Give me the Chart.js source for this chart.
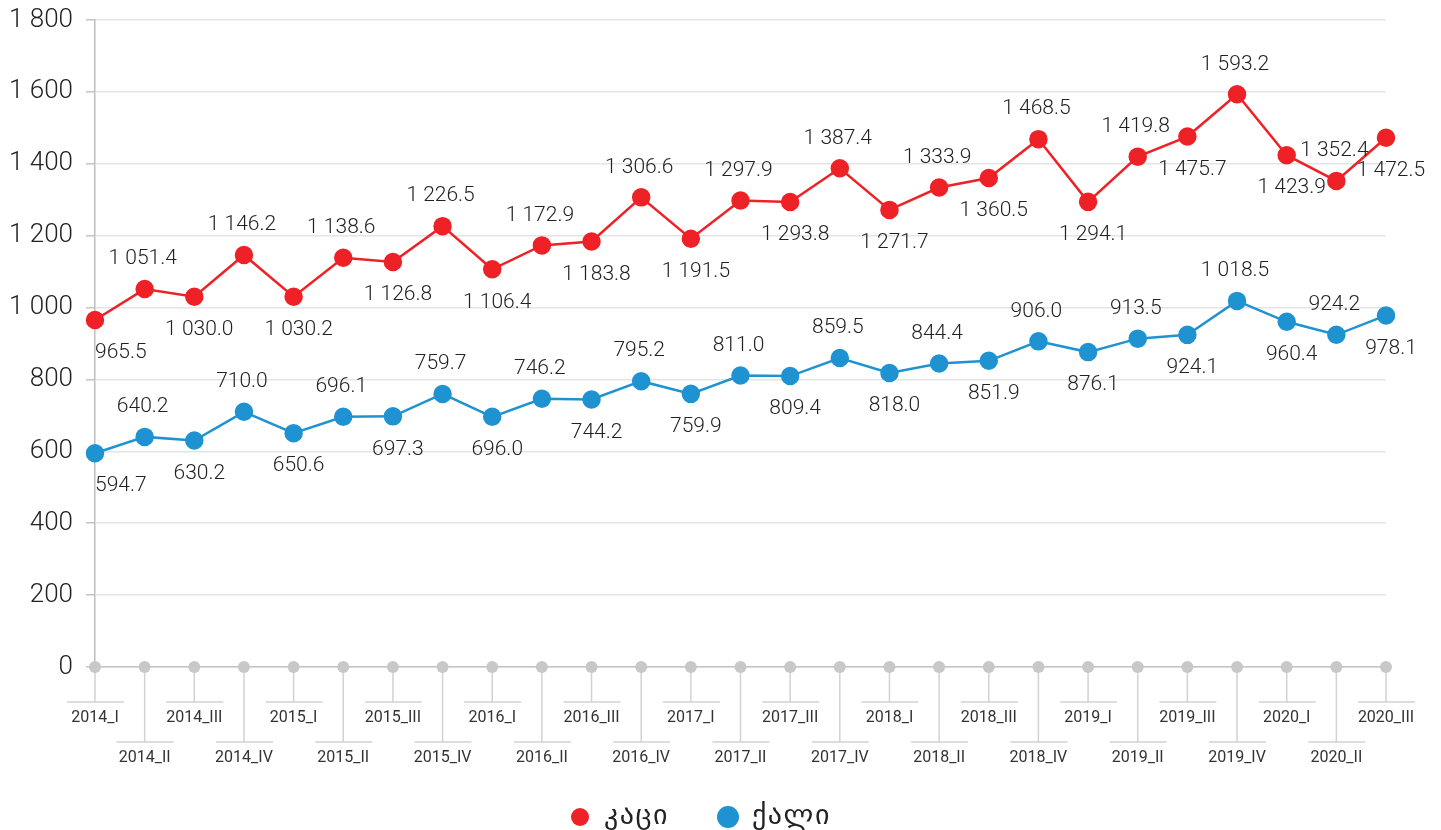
<!DOCTYPE html>
<html>
<head>
<meta charset="utf-8">
<script src="https://cdn.jsdelivr.net/npm/chart.js@4.4.1/dist/chart.umd.min.js"></script>
<style>
html,body{margin:0;padding:0;background:#fff;}
canvas{display:block;}
</style>
</head>
<body>
<canvas id="c" width="1441" height="830"></canvas>
<script>
const categories = ["2014_I","2014_II","2014_III","2014_IV","2015_I","2015_II","2015_III","2015_IV","2016_I","2016_II","2016_III","2016_IV","2017_I","2017_II","2017_III","2017_IV","2018_I","2018_II","2018_III","2018_IV","2019_I","2019_II","2019_III","2019_IV","2020_I","2020_II","2020_III"];
const menValues = [965.5,1051.4,1030.0,1146.2,1030.2,1138.6,1126.8,1226.5,1106.4,1172.9,1183.8,1306.6,1191.5,1297.9,1293.8,1387.4,1271.7,1333.9,1360.5,1468.5,1294.1,1419.8,1475.7,1593.2,1423.9,1352.4,1472.5];
const womenValues = [594.7,640.2,630.2,710.0,650.6,696.1,697.3,759.7,696.0,746.2,744.2,795.2,759.9,811.0,809.4,859.5,818.0,844.4,851.9,906.0,876.1,913.5,924.1,1018.5,960.4,924.2,978.1];
const seriesNames = ["კაცი","ქალი"];
const yTicks = [0,200,400,600,800,1000,1200,1400,1600,1800];

const RED = "#ee2127", BLUE = "#1f93d1";
const FONT = "Roboto,'DejaVu Sans',sans-serif";
const GEO = "'DejaVu Sans',sans-serif";

function fmt(v, dec){
  const s = v.toFixed(dec);
  const parts = s.split(".");
  const intp = parts[0].replace(/\B(?=(\d{3})+(?!\d))/g, " ");
  return parts.length > 1 ? intp + "." + parts[1] : intp;
}

const decorPlugin = {
  id: "decor",
  afterDatasetsDraw(chart){
    const ctx = chart.ctx;
    const area = chart.chartArea;
    ctx.save();
    ctx.font = "300 21px " + FONT;
    ctx.fillStyle = "#222";
    ctx.textBaseline = "middle";
    ctx.textAlign = "left";
    chart.data.datasets.forEach((ds, di) => {
      const meta = chart.getDatasetMeta(di);
      meta.data.forEach((pt, i) => {
        const txt = fmt(ds.data[i], 1);
        const w = ctx.measureText(txt).width;
        const above = i % 2 === 1;
        let x = pt.x - w/2 + (above ? -2 : 5);
        if (x < area.left) x = area.left;
        const y = above ? pt.y - 30 : pt.y + 33;
        ctx.fillText(txt, x, y);
      });
    });
    ctx.restore();
  },
  afterDraw(chart){
    const ctx = chart.ctx;
    const area = chart.chartArea;
    const xs = chart.scales.x;
    const y0 = area.bottom;
    ctx.save();
    categories.forEach((c, i) => {
      const x = xs.getPixelForValue(i);
      const low = i % 2 === 1;
      const yl = low ? y0 + 75 : y0 + 35;
      ctx.strokeStyle = "#d2d2d2";
      ctx.lineWidth = 1.5;
      ctx.beginPath();
      ctx.moveTo(x, y0); ctx.lineTo(x, yl);
      ctx.moveTo(x - 28, yl); ctx.lineTo(x + 29, yl);
      ctx.stroke();
      ctx.fillStyle = "#c8c8c8";
      ctx.beginPath();
      ctx.arc(x, y0, 6, 0, Math.PI*2);
      ctx.fill();
      ctx.fillStyle = "#333";
      ctx.font = "16px " + FONT;
      ctx.textAlign = "center";
      ctx.textBaseline = "middle";
      ctx.fillText(c, x, yl + 16);
    });
    // legend
    const ly = 817;
    ctx.font = "28px " + GEO;
    try { ctx.letterSpacing = "1.5px"; } catch(e) {}
    ctx.textBaseline = "middle";
    ctx.textAlign = "left";
    const items = [{name: seriesNames[0], color: RED, x: 580, r: 9}, {name: seriesNames[1], color: BLUE, x: 728, r: 11}];
    items.forEach(it => {
      ctx.fillStyle = it.color;
      ctx.beginPath();
      ctx.arc(it.x, ly, it.r, 0, Math.PI*2);
      ctx.fill();
      ctx.fillStyle = "#222";
      ctx.fillText(it.name, it.x + 24, ly);
    });
    ctx.restore();
  }
};

new Chart(document.getElementById("c"), {
  type: "line",
  data: {
    labels: categories,
    datasets: [
      {label: seriesNames[0], data: menValues, borderColor: RED, backgroundColor: RED, pointBackgroundColor: RED, pointBorderColor: RED, pointRadius: 8, pointHoverRadius: 8, borderWidth: 2.5, tension: 0, clip: false},
      {label: seriesNames[1], data: womenValues, borderColor: BLUE, backgroundColor: BLUE, pointBackgroundColor: BLUE, pointBorderColor: BLUE, pointRadius: 8, pointHoverRadius: 8, borderWidth: 2.5, tension: 0, clip: false}
    ]
  },
  options: {
    responsive: false,
    devicePixelRatio: 1,
    animation: false,
    layout: {padding: {left: 0, right: 55, top: 20, bottom: 0}},
    plugins: {legend: {display: false}, tooltip: {enabled: false}},
    scales: {
      x: {
        offset: false,
        grid: {display: false, drawTicks: false},
        border: {display: true, color: "#c4c4c4", width: 1.5},
        ticks: {display: false},
        afterFit(s){ s.height = 163; s.paddingLeft = 0; s.paddingRight = 0; }
      },
      y: {
        min: 0, max: 1800,
        afterBuildTicks(s){ s.ticks = yTicks.map(v => ({value: v})); },
        grid: {color: "#e4e4e4", lineWidth: 1.5, tickLength: 9, tickColor: "#c4c4c4"},
        border: {display: true, color: "#bdbdbd", width: 1.5},
        ticks: {padding: 13, color: "#222", font: {family: FONT, size: 26, weight: "300"}, callback: v => fmt(v, 0)},
        afterFit(s){ s.width = 95; s.paddingTop = 0; s.paddingBottom = 0; }
      }
    }
  },
  plugins: [decorPlugin]
});
</script>
</body>
</html>
